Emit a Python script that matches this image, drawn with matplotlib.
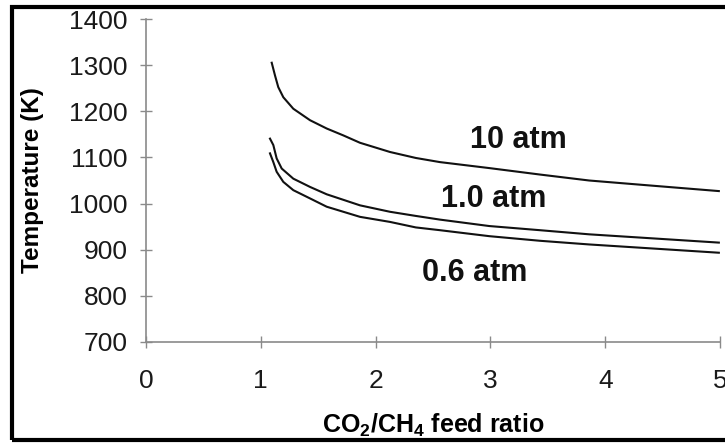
import matplotlib
matplotlib.use("Agg")
import matplotlib.pyplot as plt
from matplotlib.patches import Rectangle

plt.rcParams["font.family"] = ["Liberation Sans", "DejaVu Sans"]
plt.rcParams["mathtext.fontset"] = "custom"
plt.rcParams["mathtext.rm"] = "Liberation Sans"
plt.rcParams["mathtext.bf"] = "Liberation Sans:bold"

# equilibrium temperature vs CO2/CH4 feed ratio, one curve per pressure
ratio_10 = [1.095, 1.124, 1.152, 1.196, 1.283, 1.429, 1.574, 1.719, 1.864, 2.125,
            2.35, 2.56, 2.99, 3.43, 3.86, 4.30, 4.99]
temp_10 = [1306, 1278, 1253, 1231, 1206, 1181, 1163, 1148, 1132, 1112,
           1099, 1090, 1077, 1063, 1050, 1041, 1027]

ratio_1 = [1.08, 1.109, 1.138, 1.182, 1.283, 1.429, 1.574, 1.864, 2.125, 2.35,
           2.56, 2.99, 3.43, 3.86, 4.30, 4.99]
temp_1 = [1141, 1127, 1098, 1076, 1054, 1036, 1020, 996, 982, 973,
          965, 951, 942, 933, 926, 915]

ratio_06 = [1.08, 1.109, 1.138, 1.196, 1.283, 1.429, 1.574, 1.864, 2.125, 2.35,
            2.56, 2.99, 3.43, 3.86, 4.30, 4.99]
temp_06 = [1109, 1090, 1069, 1047, 1029, 1011, 993, 971, 960, 948,
           942, 929, 919, 911, 904, 893]

labels = ["10 atm", "1.0 atm", "0.6 atm"]
label_x = [3.24, 3.03, 2.86]
label_y = [1137, 1010, 850]

fig = plt.figure(figsize=(7.25, 4.43), dpi=100)
ax = fig.add_axes([0.2014, 0.2291, 0.7917, 0.7269])

ax.plot(ratio_10, temp_10, color="#111111", lw=1.5)
ax.plot(ratio_1, temp_1, color="#111111", lw=1.5)
ax.plot(ratio_06, temp_06, color="#111111", lw=1.5)

for txt, lx, ly in zip(labels, label_x, label_y):
    ax.text(lx, ly, txt, ha="center", va="center", fontsize=22,
            fontweight="bold", color="#111111")

ax.set_xlim(0, 5)
ax.set_ylim(700, 1400)
ax.set_xticks([0, 1, 2, 3, 4, 5])
ax.set_yticks(range(700, 1401, 100))

for side in ["top", "right"]:
    ax.spines[side].set_visible(False)
for side in ["left", "bottom"]:
    ax.spines[side].set_color("#8a8a8a")
    ax.spines[side].set_linewidth(1.2)

ax.tick_params(axis="both", direction="inout", length=9, width=1.0,
               color="#8a8a8a", labelsize=19, labelcolor="#1a1a1a")
ax.tick_params(axis="x", pad=15.5)
ax.tick_params(axis="y", pad=8.5)

ax.set_xlabel(r"CO$_\mathbf{2}$/CH$_\mathbf{4}$ feed ratio", fontsize=18,
              fontweight="bold", va="center")
ax.xaxis.set_label_coords(0.5, -0.261)
ax.set_ylabel("Temperature (K)", fontsize=17.5, fontweight="bold", va="center")
ax.yaxis.set_label_coords(-0.1986, 0.5)

# black frame round the figure
fig.patches.append(Rectangle((0.0166, 0.0079), 1.2, 0.9774, transform=fig.transFigure,
                             fill=False, edgecolor="black", lw=3, clip_on=False))

fig.savefig("out.png", dpi=100)
plt.close(fig)
